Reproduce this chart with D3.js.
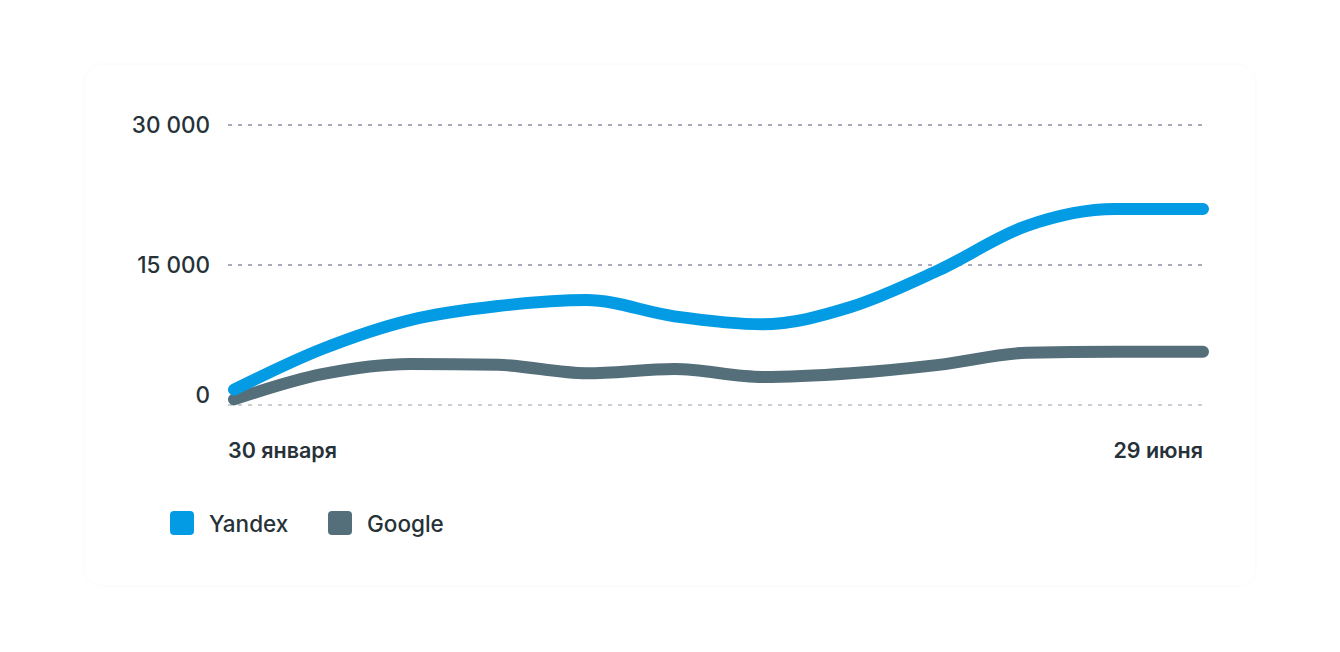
<!DOCTYPE html>
<html>
<head>
<meta charset="utf-8">
<script src="https://cdn.jsdelivr.net/npm/d3@7"></script>
<style>
  html, body { margin: 0; padding: 0; background: #ffffff; }
  svg { display: block; font-family: Inter, "Noto Sans", sans-serif; }
</style>
</head>
<body>
<svg id="chart" width="1340" height="652"></svg>
<script>
const categories = ["30 января","","","","","","","","","","","29 июня"];
const yandex = [1650, 6000, 9100, 10600, 11250, 9500, 8650, 10500, 14450, 19200, 21000, 21000];
const google = [600, 3300, 4400, 4300, 3400, 3850, 3000, 3400, 4300, 5600, 5700, 5700];
const yTicks = [0, 15000, 30000];
const yTickLabels = ["0", "15 000", "30 000"];
const seriesNames = ["Yandex", "Google"];
const seriesColors = ["#049be5", "#546e7a"];

const svg = d3.select("#chart");
const defs = svg.append("defs");
const f = defs.append("filter").attr("id","sh").attr("x","-5%").attr("y","-5%").attr("width","110%").attr("height","110%");
f.append("feDropShadow").attr("dx",0).attr("dy",0).attr("stdDeviation",2).attr("flood-color","#000").attr("flood-opacity",0.03);

svg.append("rect").attr("x",85).attr("y",65).attr("width",1170).attr("height",520)
  .attr("rx",18).attr("fill","#fff").attr("filter","url(#sh)");

const x = d3.scalePoint().domain(d3.range(categories.length)).range([234, 1203]);
const y = d3.scaleLinear().domain([0, 30000]).range([405, 125]);

// grid
svg.append("g").selectAll("line").data(yTicks).join("line")
  .attr("x1", 228).attr("x2", 1207)
  .attr("y1", d => y(d)).attr("y2", d => y(d))
  .attr("stroke", d => d === 0 ? "#bdbdca" : "#8f8fa5")
  .attr("stroke-width", 1.4)
  .attr("stroke-dasharray", "4,6");

// y labels
svg.append("g").selectAll("text").data(yTicks).join("text")
  .attr("x", 210)
  .attr("y", d => y(d) + (d === 0 ? -10 : 0))
  .attr("dy", "0.35em")
  .attr("text-anchor", "end")
  .attr("font-size", 22.5).attr("font-weight", 500).attr("fill", "#263238")
  .text((d, i) => yTickLabels[i]);

// x labels
const xl = svg.append("g");
xl.append("text").attr("x", x(0) - 6).attr("y", 458).attr("text-anchor", "start")
  .attr("font-size", 21.5).attr("font-weight", 600).attr("fill", "#263238").text(categories[0]);
xl.append("text").attr("x", x(categories.length - 1)).attr("y", 458).attr("text-anchor", "end")
  .attr("font-size", 21.5).attr("font-weight", 600).attr("fill", "#263238").text(categories[categories.length - 1]);

const line = d3.line().x((d, i) => x(i)).y(d => y(d)).curve(d3.curveMonotoneX);
[google, yandex].forEach((s) => {
  const idx = s === yandex ? 0 : 1;
  svg.append("path").datum(s).attr("d", line)
    .attr("fill", "none").attr("stroke", seriesColors[idx])
    .attr("stroke-width", 12).attr("stroke-linecap", "round").attr("stroke-linejoin", "round");
});

// legend
const legX = [170, 328];
const lg = svg.append("g");
seriesNames.forEach((n, i) => {
  lg.append("rect").attr("x", legX[i]).attr("y", 511).attr("width", 24).attr("height", 24)
    .attr("rx", 4).attr("fill", seriesColors[i]);
  lg.append("text").attr("x", legX[i] + 39).attr("y", 524).attr("dy", "0.35em")
    .attr("font-size", 22.5).attr("font-weight", 500).attr("fill", "#263238").text(n);
});
</script>
</body>
</html>
